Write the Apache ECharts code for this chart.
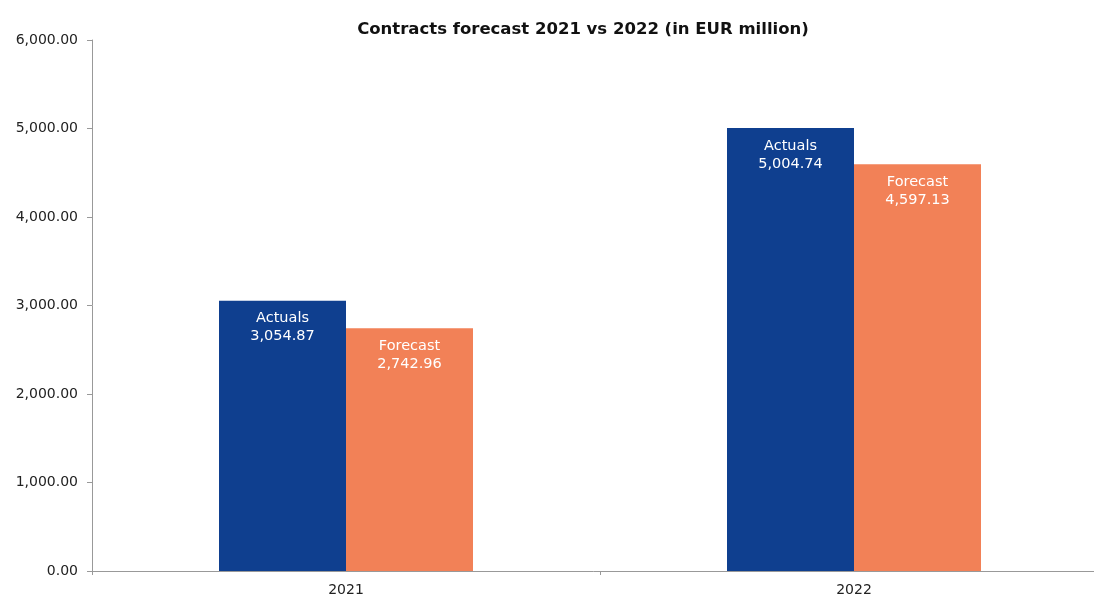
<!DOCTYPE html>
<html>
<head>
<meta charset="utf-8">
<script src="https://cdn.jsdelivr.net/npm/echarts@6/dist/echarts.min.js"></script>
<style>
  html, body { margin: 0; padding: 0; background: #fff; overflow: hidden; }
  #chart { width: 1094px; height: 594px; }
</style>
</head>
<body>
<div id="chart"></div>
<script>
// Contract values per year (EUR million)
const years = ['2021', '2022'];
const actuals = [3054.87, 5004.74];
const forecast = [2742.96, 4597.13];
const seriesNames = ['Actuals', 'Forecast'];

const fmt = v => v.toLocaleString('en-US', { minimumFractionDigits: 2, maximumFractionDigits: 2 });
const font = 'DejaVu Sans, Verdana, sans-serif';

const chart = echarts.init(document.getElementById('chart'));

function barSeries(name, data, color) {
  return {
    name: name,
    type: 'bar',
    data: data,
    barWidth: 127,
    barGap: '0%',
    itemStyle: { color: color },
    label: {
      show: true,
      position: 'insideTop',
      distance: 9,
      color: '#fff',
      fontFamily: font,
      fontSize: 14.5,
      lineHeight: 18,
      formatter: p => p.seriesName + '\n' + fmt(p.value)
    }
  };
}

chart.setOption({
  animation: false,
  title: {
    text: 'Contracts forecast 2021 vs 2022 (in EUR million)',
    left: 578,
    textAlign: 'center',
    top: 16,
    textStyle: { fontFamily: font, fontSize: 16.5, fontWeight: 'bold', color: '#111' }
  },
  // plot area runs slightly past the right edge of the canvas
  grid: { left: 92, width: 1016, top: 40, bottom: 23, containLabel: false, outerBoundsMode: 'none' },
  xAxis: {
    type: 'category',
    data: years,
    axisLine: { lineStyle: { color: '#999' } },
    axisTick: { show: true, length: 4, lineStyle: { color: '#999' } },
    axisLabel: { color: '#222', fontFamily: font, fontSize: 14, margin: 12 }
  },
  yAxis: {
    type: 'value',
    min: 0,
    max: 6000,
    interval: 1000,
    axisLine: { show: true, lineStyle: { color: '#999' } },
    axisTick: { show: true, length: 5, lineStyle: { color: '#999' } },
    splitLine: { show: false },
    axisLabel: { color: '#222', fontFamily: font, fontSize: 14, margin: 14, formatter: v => fmt(v) }
  },
  series: [
    barSeries(seriesNames[0], actuals, '#0F3F8F'),
    barSeries(seriesNames[1], forecast, '#F28157')
  ]
});
</script>
</body>
</html>
